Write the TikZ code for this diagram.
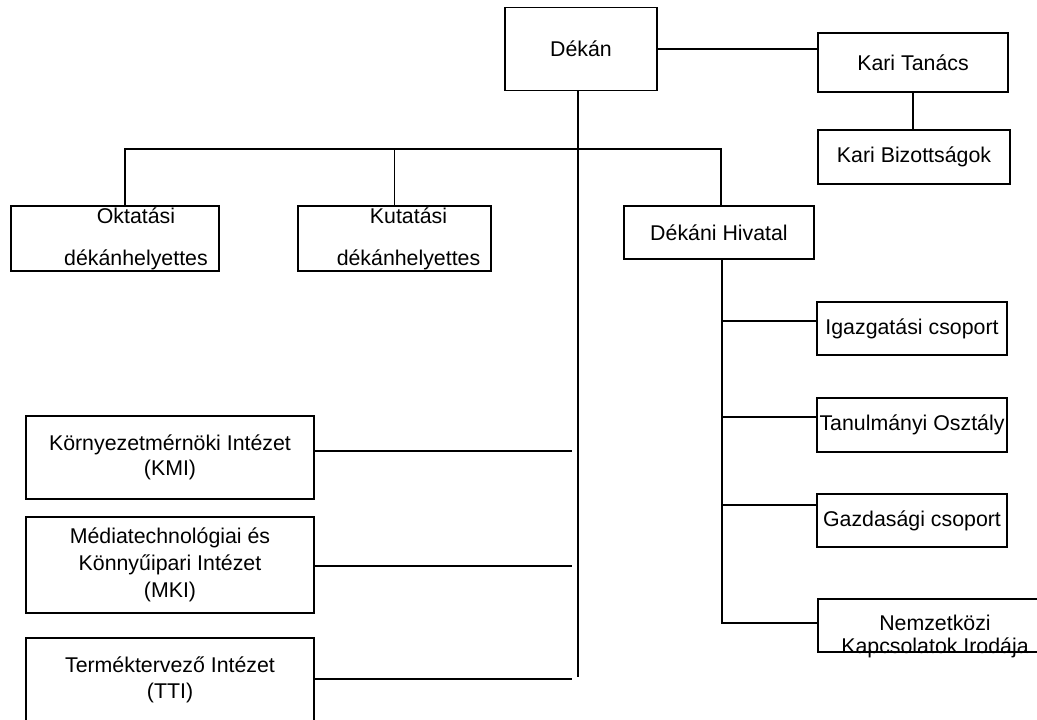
\documentclass[tikz,border=0pt]{standalone}
\usepackage{fontspec}
\setmainfont{Liberation Sans}
\usepackage{tikz}
\newcommand{\px}{*0.75pt}

\begin{document}
\begin{tikzpicture}[x=0.75pt,y=-0.75pt,
    txt/.style={font=\fontsize{16}{19}\selectfont,align=center,inner sep=0pt}]
    \tikzstyle{box} = [rectangle, draw, line width=1.1pt, txt]
    \tikzstyle{conn} = [line width=1.1pt]
    \clip (0,0) rectangle (1037,719);
        %%% Dekan and Kari Tanacs %%%
        \node[box,minimum width=152\px,minimum height=83\px] (dekan) at (581,49) {D\'ek\'an};
        \node[box,minimum width=190\px,minimum height=59\px] (karitan) at (913,62.5) {Kari Tan\'acs};
        \node[box,minimum width=192\px,minimum height=54\px] (karibiz) at (914,157) {Kari Bizotts\'agok};
        \draw[conn] (dekan.east) -- (dekan.east -| karitan.west);
        \draw[conn] (karitan.south) -- (karitan.south |- karibiz.north);
        %%% deputies %%%
        \node[box,minimum width=208\px,minimum height=65\px] (okt) at (115,238.5)
            {\hspace*{31.5pt}Oktat\'asi\\[12.5pt]\hspace*{31.5pt}d\'ek\'anhelyettes};
        \node[box,minimum width=193\px,minimum height=65\px] (kut) at (394.5,238.5)
            {\hspace*{21pt}Kutat\'asi\\[12.5pt]\hspace*{21pt}d\'ek\'anhelyettes};
        \node[box,minimum width=190\px,minimum height=53\px] (dhiv) at (719,232.5) {D\'ek\'ani Hivatal};
        %%% bus
        \coordinate (busL) at (125,149);
        \coordinate (busR) at (721,149);
        \draw[conn] (okt.north -| busL) -- (busL) -- (busR) -- (busR |- dhiv.north);
        \draw[conn] (kut.north) -- (kut.north |- busL);
        %%% Dekani Hivatal units %%%
        \node[box,minimum width=190\px,minimum height=53\px] (igaz) at (912,328.5) {Igazgat\'asi csoport};
        \node[box,minimum width=190\px,minimum height=54\px] (tanul) at (912,425) {Tanulm\'anyi Oszt\'aly};
        \node[box,minimum width=190\px,minimum height=53\px] (gazd) at (912,520.5) {Gazdas\'agi csoport};
        \node[box,minimum width=234\px,minimum height=53\px] (nemz) at (935,625.5) {};
        \node[txt] (nemztxt) at (935,636) {Nemzetk\"ozi\\[-1.75pt]Kapcsolatok Irod\'aja};
        \coordinate (hivend) at (722,623);
        \coordinate (igj) at (722,321);
        \coordinate (tanj) at (722,417);
        \coordinate (gazj) at (722,505);
        \draw[conn] (dhiv.south -| hivend) -- (hivend) -- (hivend -| nemz.west);
        \draw[conn] (igj) -- (igj -| igaz.west);
        \draw[conn] (tanj) -- (tanj -| tanul.west);
        \draw[conn] (gazj) -- (gazj -| gazd.west);
        %%% institutes %%%
        \node[box,minimum width=288\px,minimum height=83\px] (kmi) at (170,457.5)
            {K\"ornyezetm\'ern\"oki Int\'ezet\\(KMI)};
        \node[box,minimum width=288\px,minimum height=96\px] (mki) at (170,565)
            {M\'ediatechnol\'ogiai \'es\\[1.25pt]K\"onny\H{u}ipari Int\'ezet\\[1.25pt](MKI)};
        \node[box,minimum width=288\px,minimum height=84\px] (tti) at (170,680)
            {Term\'ektervez\H{o} Int\'ezet\\(TTI)};
        %%% trunk
        \coordinate (trunkend) at (578,677);
        \coordinate (kmij) at (572,451);
        \coordinate (mkij) at (572,566);
        \coordinate (ttij) at (572,679);
        \draw[conn] (dekan.south -| trunkend) -- (trunkend);
        \draw[conn] (kmij -| kmi.east) -- (kmij);
        \draw[conn] (mkij -| mki.east) -- (mkij);
        \draw[conn] (ttij -| tti.east) -- (ttij);
\end{tikzpicture}
\end{document}
